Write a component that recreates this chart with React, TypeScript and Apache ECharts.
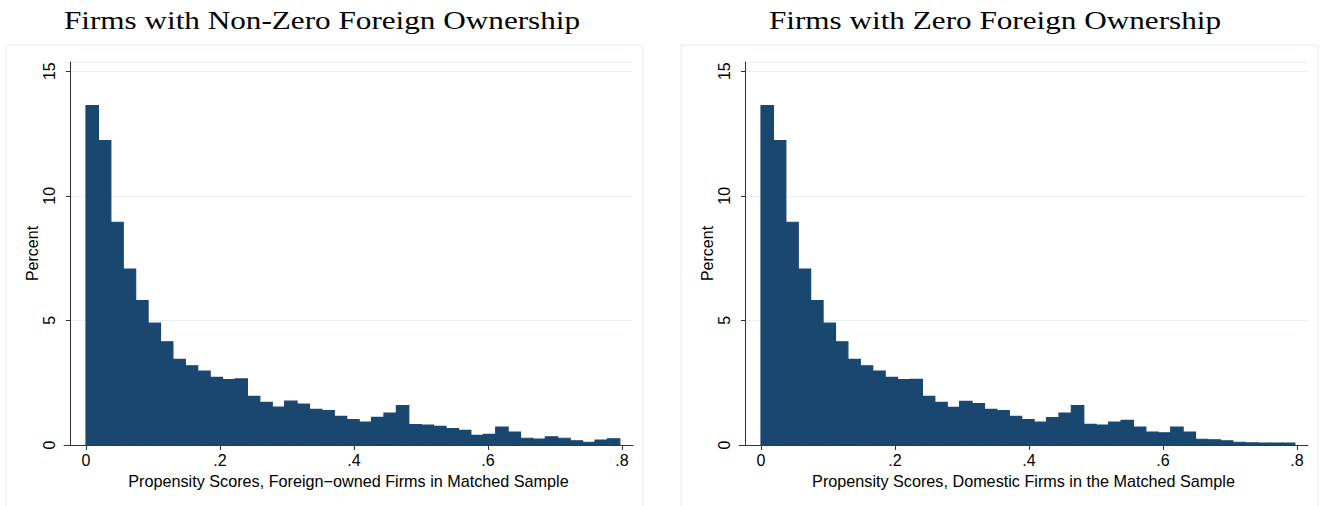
import React, { useEffect, useRef } from "react";
import * as echarts from "echarts";

// Histogram layout (Stata default bins: 43 bins starting at 0)
const binStart = 0;
const binWidth = 0.01853;

// Percent of firms per bin
const leftPercent = [
  13.62, 12.22, 8.94, 7.06, 5.79, 4.89, 4.14, 3.44, 3.18, 2.97,
  2.71, 2.62, 2.65, 1.95, 1.71, 1.52, 1.76, 1.64, 1.43, 1.38,
  1.15, 1.02, 0.92, 1.11, 1.28, 1.58, 0.82, 0.8, 0.75, 0.66,
  0.59, 0.39, 0.43, 0.72, 0.52, 0.27, 0.24, 0.33, 0.27, 0.17,
  0.11, 0.2, 0.25,
];
const rightPercent = [
  13.62, 12.22, 8.94, 7.06, 5.79, 4.89, 4.14, 3.44, 3.18, 2.97,
  2.71, 2.62, 2.63, 1.95, 1.71, 1.51, 1.75, 1.66, 1.43, 1.38,
  1.15, 1.02, 0.92, 1.1, 1.28, 1.58, 0.83, 0.8, 0.92, 0.99,
  0.72, 0.52, 0.49, 0.72, 0.52, 0.23, 0.21, 0.17, 0.11, 0.09,
  0.08, 0.08, 0.08,
];

const xTicks = [0, 0.2, 0.4, 0.6, 0.8];
const yTickInterval = 5;
const titles = ["Firms with Non-Zero Foreign Ownership", "Firms with Zero Foreign Ownership"];
const xNames = [
  "Propensity Scores, Foreign\u2212owned Firms in Matched Sample",
  "Propensity Scores, Domestic Firms in the Matched Sample",
];
const yName = "Percent";

const BAR = "#1a476f";
const SANS = "'Liberation Sans', Arial, Helvetica, sans-serif";
const SERIF = "'Liberation Serif', 'Times New Roman', serif";

function buildBins(values: number[]) {
  return values.map((v, i) => [binStart + i * binWidth, binStart + (i + 1) * binWidth, v]);
}

const renderItem = (params: any, api: any) => {
  const x0 = api.value(0);
  const x1 = api.value(1);
  const v = api.value(2);
  const a = api.coord([x0, 0]);
  const b = api.coord([x1, v]);
  return {
    type: "rect",
    shape: { x: a[0], y: b[1], width: b[0] - a[0], height: a[1] - b[1] },
    style: { fill: BAR, stroke: BAR, lineWidth: 1.2 },
  };
};

export default function App() {
  const ref = useRef<HTMLDivElement>(null);

  useEffect(() => {
    if (!ref.current) return;
    const chart = echarts.init(ref.current, null, { renderer: "svg" });
    const panelLeft = [64, 739];
    const titleX = [322, 995];
    const frameX = [6, 681];

    const grids = panelLeft.map((l) => ({ left: l, top: 62, width: 569, height: 383 }));
    const xAxes = [0, 1].map((i) => ({
      type: "value",
      gridIndex: i,
      min: -0.03284,
      max: 0.81642,
      name: xNames[i],
      nameLocation: "middle",
      nameGap: 28,
      nameTextStyle: { fontFamily: SANS, fontSize: 16.2, color: "#000" },
      axisLine: { show: true, onZero: false, lineStyle: { color: "#333", width: 1 } },
      axisTick: { show: true, length: 5, customValues: xTicks, lineStyle: { color: "#333" } },
      axisLabel: {
        customValues: xTicks,
        margin: 7,
        fontFamily: SANS,
        fontSize: 16,
        color: "#000",
        formatter: (v: number) => (v === 0 ? "0" : String(v).replace(/^0/, "")),
      },
      splitLine: { show: false },
    }));
    const yAxes = [0, 1].map((i) => ({
      type: "value",
      gridIndex: i,
      min: 0,
      max: 15.37,
      interval: yTickInterval,
      offset: -6,
      name: yName,
      nameLocation: "middle",
      nameGap: 30,
      nameTextStyle: { fontFamily: SANS, fontSize: 16, color: "#000" },
      axisLine: { show: true, onZero: false, lineStyle: { color: "#333", width: 1 } },
      axisTick: { show: true, length: 4, lineStyle: { color: "#333" } },
      axisLabel: {
        rotate: 90,
        margin: 13,
        fontFamily: SANS,
        fontSize: 16,
        color: "#000",
        showMaxLabel: false,
      },
      splitLine: { show: true, lineStyle: { color: "#e8f0f2", width: 1 } },
    }));

    const graphic: any[] = [];
    [0, 1].forEach((i) => {
      graphic.push({
        type: "rect",
        shape: { x: frameX[i], y: 45, width: 637, height: 480 },
        style: { fill: "none", stroke: "#e6ecee", lineWidth: 1 },
        silent: true,
        z: -10,
      });
      graphic.push({
        type: "text",
        x: titleX[i],
        y: 20,
        scaleX: 1.2,
        style: {
          text: titles[i],
          x: 0,
          y: 0,
          fontFamily: SERIF,
          fontSize: 26,
          fill: "#000",
          textAlign: "center",
          textVerticalAlign: "middle",
        },
        silent: true,
      });
    });

    chart.setOption({
      animation: false,
      backgroundColor: "#fff",
      grid: grids,
      xAxis: xAxes,
      yAxis: yAxes,
      graphic,
      series: [leftPercent, rightPercent].map((vals, i) => ({
        type: "custom",
        xAxisIndex: i,
        yAxisIndex: i,
        renderItem,
        encode: { x: [0, 1], y: 2 },
        data: buildBins(vals),
      })),
    });
    return () => chart.dispose();
  }, []);

  return (
    <div
      ref={ref}
      style={{ position: "absolute", left: 0, top: 0, width: 1322, height: 506, background: "#fff" }}
    />
  );
}
